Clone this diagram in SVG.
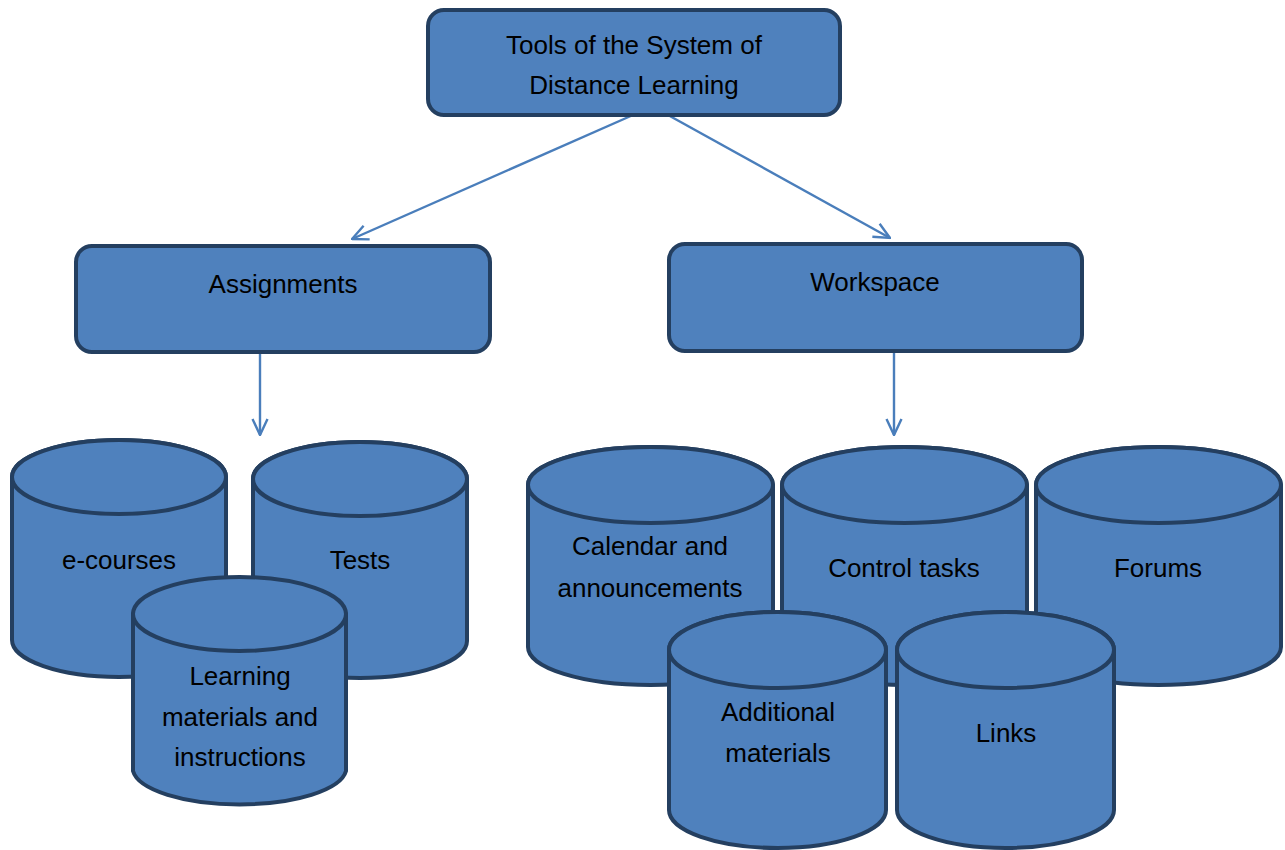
<svg xmlns="http://www.w3.org/2000/svg" width="1285" height="850" viewBox="0 0 1285 850">
<defs>
<style>
.box{fill:#4f81bd;stroke:#243f60;stroke-width:4}
.cyl{fill:#4f81bd;stroke:#243f60;stroke-width:4;stroke-linejoin:round}
.t{font-family:"Liberation Sans",Arial,sans-serif;font-size:26px;fill:#000;text-anchor:middle}
.conn{stroke:#4a7ebb;stroke-width:2.4;fill:none}
</style>
<marker id="arr" viewBox="0 0 18 18" refX="17" refY="9" markerWidth="18" markerHeight="18" markerUnits="userSpaceOnUse" orient="auto">
<path d="M1,1.5 L17,9 L1,16.5" fill="none" stroke="#4a7ebb" stroke-width="2.4"/>
</marker>
</defs>
<rect width="1285" height="850" fill="#fff"/>

<g id="connectors">
<line class="conn" x1="633" y1="115" x2="352" y2="239" marker-end="url(#arr)"/>
<line class="conn" x1="668" y1="115" x2="890" y2="238" marker-end="url(#arr)"/>
<line class="conn" x1="260" y1="352" x2="260" y2="435" marker-end="url(#arr)"/>
<line class="conn" x1="894" y1="352" x2="894" y2="435" marker-end="url(#arr)"/>
</g>

<g id="tools">
<rect class="box" x="428" y="10" width="412" height="105" rx="16"/>
<text class="t" x="634" y="54">Tools of the System of</text>
<text class="t" x="634" y="94">Distance Learning</text>
</g>

<g id="assignments">
<rect class="box" x="76" y="246" width="414" height="106" rx="16"/>
<text class="t" x="283" y="293">Assignments</text>
</g>

<g id="workspace">
<rect class="box" x="669" y="244" width="413" height="107" rx="16"/>
<text class="t" x="875" y="291">Workspace</text>
</g>

<g id="e-courses">
<path class="cyl" d="M12,477 A107,37 0 0 1 226,477 L226,640 A107,37 0 0 1 12,640 Z"/>
<ellipse class="cyl" cx="119" cy="477" rx="107" ry="37"/>
<text class="t" x="119" y="569">e-courses</text>
</g>

<g id="tests">
<path class="cyl" d="M253,479 A107,37 0 0 1 467,479 L467,641 A107,37 0 0 1 253,641 Z"/>
<ellipse class="cyl" cx="360" cy="479" rx="107" ry="37"/>
<text class="t" x="360" y="569">Tests</text>
</g>

<g id="learning-materials">
<path class="cyl" d="M133,614 A107,37 0 0 1 346,614 L346,771 A107,37 0 0 1 133,771 Z"/>
<ellipse class="cyl" cx="239.5" cy="614" rx="106.5" ry="37"/>
<text class="t" x="240" y="685">Learning</text>
<text class="t" x="240" y="726">materials and</text>
<text class="t" x="240" y="766">instructions</text>
</g>

<g id="calendar">
<path class="cyl" d="M528,485 A122.5,38 0 0 1 773,485 L773,647 A122.5,38 0 0 1 528,647 Z"/>
<ellipse class="cyl" cx="650.5" cy="485" rx="122.5" ry="38"/>
<text class="t" x="650" y="555">Calendar and</text>
<text class="t" x="650" y="597">announcements</text>
</g>

<g id="control-tasks">
<path class="cyl" d="M782,485 A122.5,38 0 0 1 1027,485 L1027,647 A122.5,38 0 0 1 782,647 Z"/>
<ellipse class="cyl" cx="904.5" cy="485" rx="122.5" ry="38"/>
<text class="t" x="904" y="577">Control tasks</text>
</g>

<g id="forums">
<path class="cyl" d="M1036,485 A122.5,38 0 0 1 1281,485 L1281,647 A122.5,38 0 0 1 1036,647 Z"/>
<ellipse class="cyl" cx="1158.5" cy="485" rx="122.5" ry="38"/>
<text class="t" x="1158" y="577">Forums</text>
</g>

<g id="additional-materials">
<path class="cyl" d="M669,650 A108.5,38 0 0 1 886,650 L886,810 A108.5,38 0 0 1 669,810 Z"/>
<ellipse class="cyl" cx="777.5" cy="650" rx="108.5" ry="38"/>
<text class="t" x="778" y="721">Additional</text>
<text class="t" x="778" y="762">materials</text>
</g>

<g id="links">
<path class="cyl" d="M897,650 A108.5,38 0 0 1 1114,650 L1114,810 A108.5,38 0 0 1 897,810 Z"/>
<ellipse class="cyl" cx="1005.5" cy="650" rx="108.5" ry="38"/>
<text class="t" x="1006" y="742">Links</text>
</g>
</svg>
